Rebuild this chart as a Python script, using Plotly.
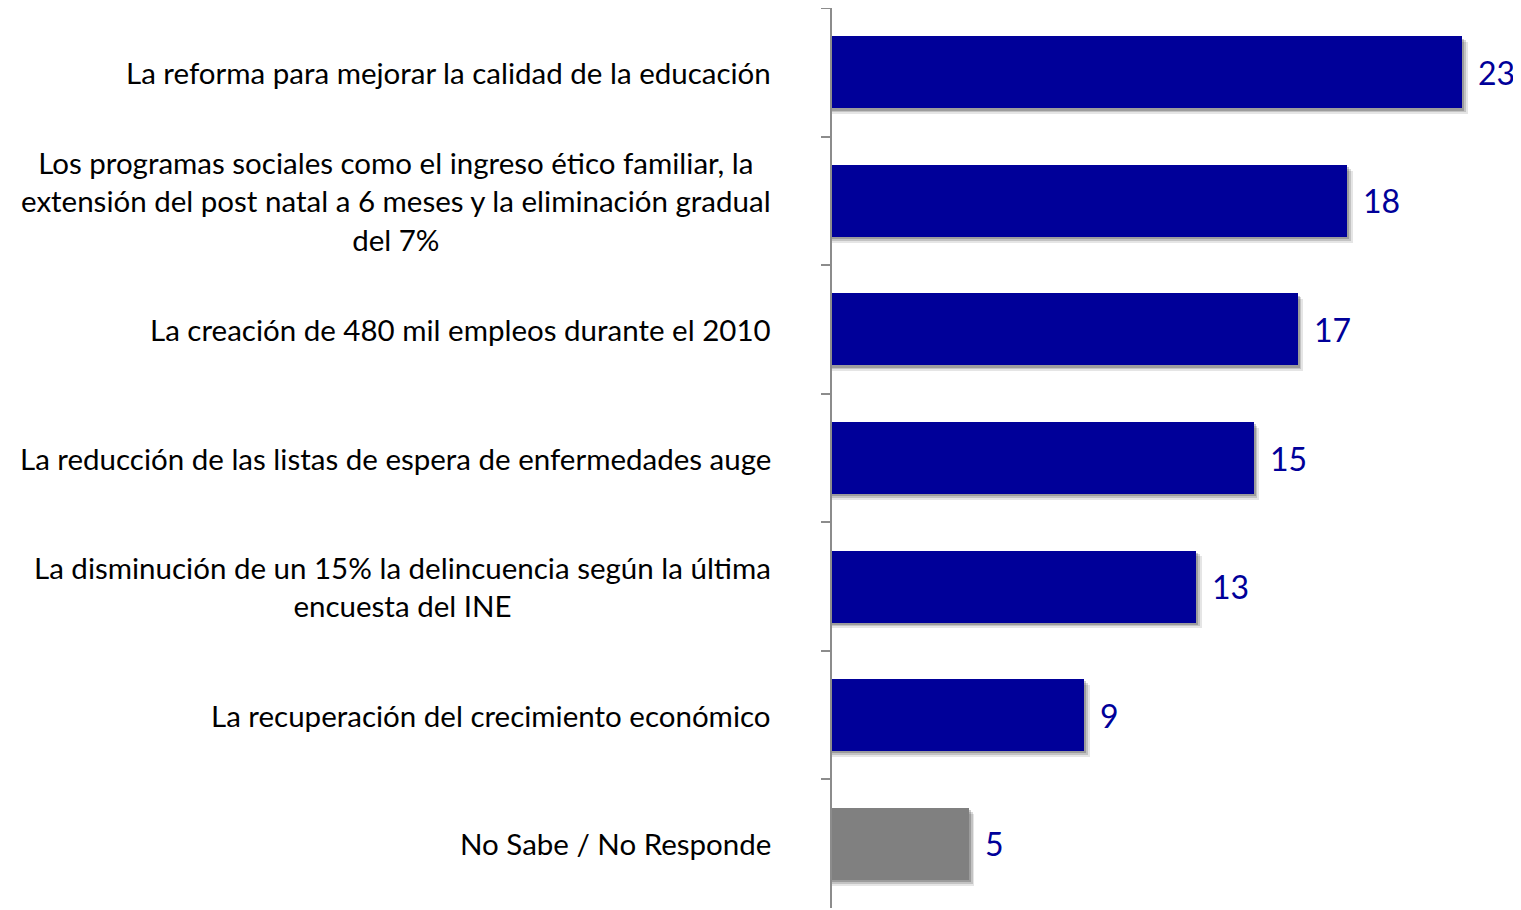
import plotly.graph_objects as go

categories = [
    "La reforma para mejorar la calidad de la educación",
    "Los programas sociales como el ingreso ético familiar, la<br>extensión del post natal a 6 meses y la eliminación gradual<br>del 7%",
    "La creación de 480 mil empleos durante el 2010",
    "La reducción de las listas de espera de enfermedades auge",
    "La disminución de un 15% la delincuencia según la última<br>encuesta del INE",
    "La recuperación del crecimiento económico",
    "No Sabe / No Responde",
]
values = [23.0, 18.8, 17.0, 15.4, 13.3, 9.2, 5.0]
value_labels = ["23", "18", "17", "15", "13", "9", "5"]
bar_colors = ["#000099"] * 6 + ["#808080"]

BLUE = "#000099"
FONT = "Lato"

fig = go.Figure()

# soft drop shadow behind the bars
for dx, dy, a in [(0.2, 0.045, 0.10), (0.13, 0.03, 0.15), (0.07, 0.018, 0.2)]:
    fig.add_trace(go.Bar(
        y=categories, x=[v + dx for v in values], orientation="h",
        width=0.56, offset=-0.28 + dy,
        marker=dict(color=f"rgba(0,0,0,{a})", line=dict(width=0)),
        hoverinfo="skip", showlegend=False,
    ))

fig.add_trace(go.Bar(
    y=categories, x=values, orientation="h",
    width=0.56, offset=-0.28,
    marker=dict(color=bar_colors, line=dict(width=0)),
    showlegend=False,
))

annotations = []
for cat, v, lab in zip(categories, values, value_labels):
    annotations.append(dict(
        x=v, y=cat, xref="x", yref="y", text=lab, showarrow=False,
        xanchor="left", yanchor="middle", xshift=14,
        font=dict(family=FONT, size=32, color=BLUE),
    ))
    annotations.append(dict(
        x=0, y=cat, xref="paper", yref="y", text=cat, showarrow=False,
        xanchor="right", yanchor="middle", xshift=-59, align="center",
        font=dict(family=FONT, size=29.5, color="#000000"),
    ))

# page body adds 8px margin, so the figure is sized to fit the window
fig.update_layout(
    width=1513, height=902,
    margin=dict(l=824, r=0, t=0, b=2),
    paper_bgcolor="white", plot_bgcolor="white",
    barmode="overlay", bargap=0,
    annotations=annotations,
    xaxis=dict(range=[0, 25.15], visible=False, showgrid=False, zeroline=False),
    yaxis=dict(
        type="category", range=[6.5, -0.5], showticklabels=False,
        showline=True, linecolor="#8c8c8c", linewidth=2,
        ticks="outside", tickson="boundaries", ticklen=9,
        tickcolor="#8c8c8c", tickwidth=2, showgrid=False,
    ),
)

fig.write_html("out.html")
